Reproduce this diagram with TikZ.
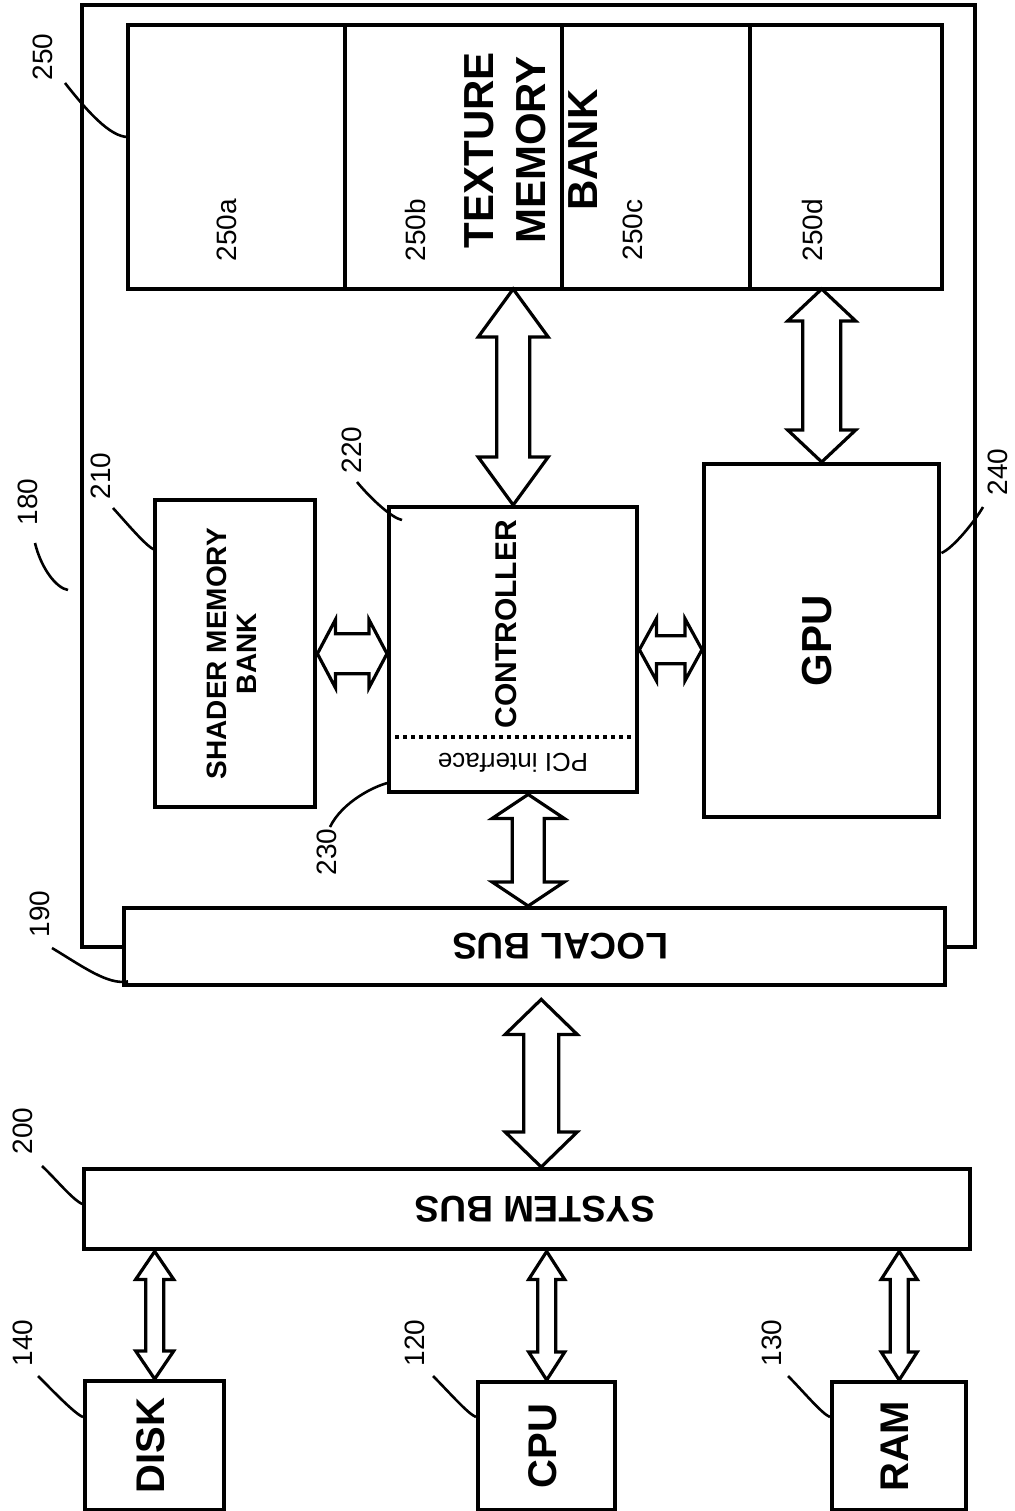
\documentclass[tikz,border=0pt]{standalone}
\usepackage{fontspec}
\setmainfont{Liberation Sans}
\usepackage{graphicx}
\usetikzlibrary{calc}
\newcommand{\vtext}[1]{\rotatebox{90}{\begin{tabular}{@{}c@{}}#1\end{tabular}}}
\newcommand{\utext}[1]{\rotatebox{180}{#1}}
% outlined double block arrow: from, to, shaft half width, head half width, head length
\newcommand{\busarrow}[5]{%
  \coordinate (ba) at ($(#1)!#5!(#2)$);
  \coordinate (bb) at ($(#2)!#5!(#1)$);
  \draw[barrow] (#1) -- ($(ba)!#4!90:(#2)$) -- ($(ba)!#3!90:(#2)$) -- ($(bb)!#3!-90:(#1)$)
    -- ($(bb)!#4!-90:(#1)$) -- (#2) -- ($(bb)!#4!90:(#1)$) -- ($(bb)!#3!90:(#1)$)
    -- ($(ba)!#3!-90:(#2)$) -- ($(ba)!#4!-90:(#2)$) -- cycle;}
\tikzset{
  box/.style={draw, line width=2.2pt, anchor=north west, inner sep=0pt, font=\fontsize{20}{24}\selectfont\bfseries},
  bank/.style={box, outer sep=0pt, minimum height=132pt},
  ttl/.style={inner sep=0pt, font=\fontsize{21}{26}\selectfont\bfseries},
  ctl/.style={inner sep=0pt, font=\fontsize{15}{18}\selectfont\bfseries},
  bustxt/.style={inner sep=0pt, font=\fontsize{18.5}{22}\selectfont\bfseries},
  pci/.style={inner sep=0pt, font=\fontsize{13}{15}\selectfont},
  num/.style={inner sep=1pt, font=\fontsize{14}{16}\selectfont},
  barrow/.style={draw, line width=1.6pt, fill=white, line join=miter},
  wire/.style={line width=2.2pt},
  sep/.style={dotted, line width=2pt},
  lead/.style={line width=1.3pt}
}
\begin{document}
\begin{tikzpicture}[x=0.5pt, y=-0.5pt]
\useasboundingbox (0,0) rectangle (1015,1511);
\node[bank, minimum width=108.5pt] (ta) at (128,25) {};
\node[bank, minimum width=108.5pt] (tb) at (ta.north east) {};
\node[bank, minimum width=94pt] (tc) at (tb.north east) {};
\node[bank, minimum width=96pt] (td) at (tc.north east) {};
\node[ttl] (texlbl) at (535,150) {\vtext{TEXTURE\\MEMORY\\BANK}};
\node[num] (na) at (227,230) {\rotatebox{90}{250a}};
\node[num] (nb) at (415,230) {\rotatebox{90}{250b}};
\node[num] (nc) at (633,230) {\rotatebox{90}{250c}};
\node[num] (nd) at (812,230) {\rotatebox{90}{250d}};
\node[box, minimum width=80pt, minimum height=153.5pt, font=\fontsize{14}{15}\selectfont\bfseries] (shader) at (153,498) {\vtext{SHADER MEMORY\\BANK}};
\node[box, minimum width=124pt, minimum height=142.5pt] (ctrl) at (387,505) {};
\node[ctl] (ctrllbl) at ([xshift=-2pt,yshift=12.75pt]ctrl.center) {\vtext{CONTROLLER}};
\coordinate (pcitop) at ([yshift=-116pt]ctrl.north west);
\draw[sep] (pcitop) -- (pcitop -| ctrl.east);
\node[pci] (pcilbl) at (513,763) {\utext{PCI interface}};
\node[box, minimum width=117.5pt, minimum height=176.5pt, font=\fontsize{21}{24}\selectfont\bfseries] (gpu) at (702,462) {\vtext{GPU}};
\node[box, minimum width=410.5pt, minimum height=38.5pt] (lbus) at (122,906) {};
\node[bustxt] (lbuslbl) at ([xshift=12.75pt]lbus.center) {\utext{LOCAL BUS}};
\node[box, minimum width=443pt, minimum height=40pt] (sbus) at (82,1167) {};
\node[bustxt] (sbuslbl) at ([xshift=4pt]sbus.center) {\utext{SYSTEM BUS}};
\node[box, minimum width=69.5pt, minimum height=64.5pt] (disk) at (83,1379) {\vtext{DISK}};
\node[box, minimum width=68.5pt, minimum height=64pt] (cpu) at (476,1380) {\vtext{CPU}};
\node[box, minimum width=67pt, minimum height=64pt] (ram) at (830,1380) {\vtext{RAM}};
\coordinate (b180) at (82,5);
\coordinate (c180) at (975,5);
\draw[wire] (lbus.west) -| (b180) -- (c180) |- (lbus.east);
\busarrow{ctrl.north |- tb.south}{ctrl.north}{8.25pt}{17.5pt}{24pt}
\busarrow{gpu.north |- td.south}{gpu.north}{9.5pt}{17pt}{16pt}
\busarrow{shader.east}{shader.east -| ctrl.west}{10pt}{17pt}{9pt}
\busarrow{ctrl.east}{ctrl.east -| gpu.west}{7pt}{15.5pt}{8.5pt}
\coordinate (cl) at ([xshift=7.5pt]ctrl.south);
\busarrow{cl}{cl |- lbus.north}{8pt}{18pt}{12pt}
\coordinate (ls) at ([xshift=3.25pt,yshift=-6pt]lbus.south);
\busarrow{ls}{ls |- sbus.north}{8.75pt}{18pt}{17.5pt}
\busarrow{disk.north |- sbus.south}{disk.north}{4.5pt}{9.5pt}{14pt}
\busarrow{cpu.north |- sbus.south}{cpu.north}{4.5pt}{9pt}{14pt}
\busarrow{ram.north |- sbus.south}{ram.north}{4.5pt}{9pt}{14pt}
\node[num] (n180) at (28,502) {\rotatebox{90}{180}};
\node[num] (n250) at (43,57) {\rotatebox{90}{250}};
\node[num] (n210) at (101,476) {\rotatebox{90}{210}};
\node[num] (n220) at (352,450) {\rotatebox{90}{220}};
\node[num] (n230) at (327,852) {\rotatebox{90}{230}};
\node[num] (n240) at (998,472) {\rotatebox{90}{240}};
\node[num] (n190) at (40,914) {\rotatebox{90}{190}};
\node[num] (n200) at (23,1131) {\rotatebox{90}{200}};
\node[num] (n140) at (23,1343) {\rotatebox{90}{140}};
\node[num] (n120) at (415,1343) {\rotatebox{90}{120}};
\node[num] (n130) at (772,1343) {\rotatebox{90}{130}};
\coordinate (e180) at (68,590);
\draw[lead] ([shift={(7,41)}]n180.center) .. controls +(6,25) and +(-12,-2) .. (e180);
\draw[lead] ([shift={(22,26)}]n250.center) .. controls +(22,28) and +(-18,0) .. ([yshift=-56pt]ta.north west);
\draw[lead] ([shift={(12,32)}]n210.center) .. controls +(18,20) and +(-8,-3) .. ([shift={(2,52)}]shader.north west);
\draw[lead] ([shift={(5,32)}]n220.center) .. controls +(15,18) and +(-10,-2) .. ([shift={(15,15)}]ctrl.north west);
\draw[lead] ([shift={(3,-25)}]n230.center) .. controls +(12,-25) and +(-15,3) .. ([shift={(3,-12)}]ctrl.south west);
\draw[lead] ([shift={(-15,35)}]n240.center) .. controls +(-8,14) and +(12,-5) .. ([shift={(0,91)}]gpu.north east);
\draw[lead] ([shift={(12,34)}]n190.center) .. controls +(30,18) and +(-20,4) .. ([shift={(6,-6)}]lbus.south west);
\draw[lead] ([shift={(19,35)}]n200.center) .. controls +(15,14) and +(-10,-2) .. ([shift={(3,38)}]sbus.north west);
\draw[lead] ([shift={(15,33)}]n140.center) .. controls +(15,15) and +(-8,-3) .. ([shift={(0,38)}]disk.north west);
\draw[lead] ([shift={(18,33)}]n120.center) .. controls +(15,15) and +(-8,-3) .. ([shift={(0,37)}]cpu.north west);
\draw[lead] ([shift={(16,33)}]n130.center) .. controls +(15,15) and +(-8,-3) .. ([shift={(0,37)}]ram.north west);
\end{tikzpicture}
\end{document}
